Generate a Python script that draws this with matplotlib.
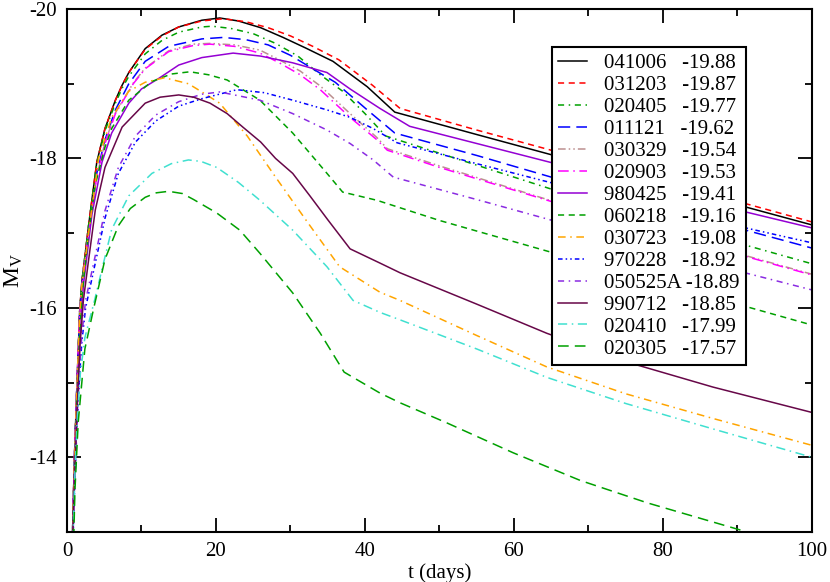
import matplotlib
matplotlib.use("Agg")
import matplotlib.pyplot as plt
from matplotlib.ticker import MultipleLocator

plt.rcParams["font.family"] = ["Liberation Serif", "DejaVu Serif"]
plt.rcParams["mathtext.fontset"] = "custom"
plt.rcParams["mathtext.rm"] = "Liberation Serif"
plt.rcParams["axes.unicode_minus"] = False

# light curves: t in days, absolute V magnitude
t_041006 = [0.7, 1.0, 1.35, 1.7, 2.0, 2.9, 4.0, 5.1, 6.5, 7.4, 8.3, 10.5, 12.75, 15, 18.1, 20.5, 23, 26, 29, 32, 35.7, 40.3, 44, 55, 65, 80, 100]
m_041006 = [-12.8, -14.0, -15.0, -15.95, -16.35, -17.1, -17.95, -18.4, -18.78, -18.98, -19.15, -19.47, -19.65, -19.76, -19.85, -19.88, -19.84, -19.75, -19.62, -19.48, -19.3, -18.96, -18.62, -18.32, -18.05, -17.65, -17.11]

t_031203 = [0.7, 1.0, 1.35, 1.7, 2.0, 2.9, 4.0, 5.1, 6.5, 7.4, 8.3, 10.5, 12.75, 15, 18.1, 21, 24, 27, 30, 33, 36.5, 41, 44.7, 55, 65, 80, 100]
m_031203 = [-12.8, -14.0, -15.0, -15.95, -16.35, -17.1, -17.95, -18.4, -18.78, -18.98, -19.15, -19.46, -19.64, -19.76, -19.84, -19.87, -19.83, -19.75, -19.64, -19.5, -19.32, -18.98, -18.67, -18.38, -18.11, -17.7, -17.15]

t_020405 = [0.7, 1.0, 1.35, 1.7, 2.0, 2.9, 4.0, 5.1, 6.5, 7.4, 8.3, 10.5, 12.75, 15, 18.1, 19.5, 22, 25, 28, 31, 34, 37, 40, 42.8, 50, 65, 80, 100]
m_020405 = [-12.8, -14.0, -15.0, -15.95, -16.35, -17.1, -17.93, -18.37, -18.74, -18.94, -19.1, -19.4, -19.58, -19.69, -19.76, -19.77, -19.74, -19.67, -19.54, -19.37, -19.12, -18.9, -18.6, -18.3, -18.07, -17.59, -17.15, -16.59]

t_011121 = [0.7, 1.0, 1.35, 1.7, 2.0, 2.9, 4.0, 5.1, 6.5, 8.3, 10.5, 13.65, 18.1, 21, 24, 27, 30, 33, 36, 40.3, 44, 55, 65, 80, 100]
m_011121 = [-12.8, -14.0, -15.0, -15.9, -16.3, -17.0, -17.8, -18.25, -18.65, -19.0, -19.3, -19.5, -19.6, -19.62, -19.59, -19.52, -19.38, -19.2, -19.02, -18.65, -18.34, -18.04, -17.75, -17.34, -16.8]

t_030329 = [0.7, 1.0, 1.35, 1.7, 2.0, 2.9, 4.0, 5.1, 6.5, 8.9, 10.5, 13.65, 16.9, 19.2, 22.5, 25.9, 28.5, 31.3, 34, 38, 41.6, 43, 50, 64.8, 80, 100]
m_030329 = [-12.8, -14.0, -15.0, -15.9, -16.29, -16.99, -17.77, -18.21, -18.61, -19.01, -19.21, -19.44, -19.53, -19.54, -19.52, -19.45, -19.32, -19.17, -18.97, -18.6, -18.28, -18.13, -17.9, -17.44, -17.01, -16.45]

t_020903 = [0.7, 1.0, 1.35, 1.7, 2.0, 2.9, 4.0, 5.1, 6.5, 8.9, 10.5, 13.65, 16.9, 19.2, 22.5, 25.9, 28.5, 31.3, 34, 38, 41.6, 43, 50, 64.8, 80, 100]
m_020903 = [-12.8, -14.0, -15.0, -15.9, -16.28, -16.98, -17.76, -18.2, -18.6, -19.0, -19.2, -19.43, -19.51, -19.53, -19.5, -19.41, -19.28, -19.12, -18.92, -18.55, -18.25, -18.11, -17.88, -17.43, -17.0, -16.44]

t_980425 = [0.7, 1.0, 1.35, 1.75, 2.2, 3.35, 4.7, 6.0, 8.3, 10, 12.3, 15, 18.1, 22.3, 26, 30.3, 34.9, 38, 42, 46, 55, 64.8, 80, 100]
m_980425 = [-12.7, -13.8, -14.75, -15.6, -16.3, -17.25, -17.95, -18.34, -18.74, -18.93, -19.07, -19.25, -19.35, -19.41, -19.37, -19.28, -19.15, -18.93, -18.67, -18.43, -18.2, -17.95, -17.55, -17.07]

t_060218 = [0.7, 1.0, 1.35, 1.7, 2.1, 2.9, 3.8, 5.1, 6.0, 8.3, 11.4, 14, 16.5, 19, 21.5, 25.9, 30.3, 34.9, 37, 41.6, 50, 64.8, 80, 100]
m_060218 = [-12.7, -13.8, -14.8, -15.65, -16.25, -17.0, -17.65, -18.15, -18.4, -18.78, -19.03, -19.13, -19.16, -19.12, -19.05, -18.78, -18.34, -17.8, -17.55, -17.44, -17.17, -16.75, -16.33, -15.77]

t_030723 = [0.7, 1.0, 1.35, 1.7, 2.0, 2.9, 4.25, 6.0, 8.3, 10.5, 13.1, 16.3, 18.1, 20.5, 24.2, 28, 32.4, 36.6, 42, 44.7, 55, 64.4, 75, 86.7, 100]
m_030723 = [-12.8, -13.95, -14.95, -15.9, -16.3, -17.0, -18.0, -18.55, -18.9, -19.02, -19.08, -19.0, -18.89, -18.74, -18.3, -17.75, -17.13, -16.55, -16.21, -16.1, -15.63, -15.21, -14.85, -14.52, -14.16]

t_970228 = [0.7, 1.0, 1.3, 1.7, 2.0, 2.5, 3.8, 5.1, 6.9, 9.2, 11.9, 15, 18.1, 22.8, 26.5, 30.3, 34.9, 38, 41.1, 44.3, 55, 64.8, 80, 100]
m_970228 = [-12.5, -13.5, -14.3, -15.1, -15.55, -16.0, -16.6, -17.2, -17.8, -18.22, -18.5, -18.7, -18.8, -18.92, -18.88, -18.78, -18.65, -18.55, -18.4, -18.21, -17.93, -17.68, -17.32, -16.87]

t_050525a = [0.7, 1.0, 1.3, 1.7, 2.0, 2.5, 3.8, 5.1, 6.9, 9.2, 11.9, 15, 18.1, 20.5, 25.9, 30.3, 34.9, 38, 41.1, 43.8, 55, 64.8, 80, 100]
m_050525a = [-12.6, -13.6, -14.4, -15.2, -15.65, -16.1, -16.7, -17.3, -17.88, -18.3, -18.58, -18.76, -18.86, -18.89, -18.78, -18.6, -18.38, -18.2, -17.98, -17.75, -17.45, -17.18, -16.75, -16.24]

t_990712 = [0.7, 1.0, 1.35, 1.75, 2.2, 2.9, 3.8, 5.1, 7.4, 10.5, 12.5, 15, 17, 19.2, 21.5, 23.6, 26, 28, 30.3, 32.6, 35, 38, 42, 44.7, 55, 64.4, 75, 86.7, 100]
m_990712 = [-12.7, -13.7, -14.6, -15.5, -16.1, -16.64, -17.31, -17.88, -18.42, -18.74, -18.82, -18.85, -18.82, -18.74, -18.6, -18.42, -18.22, -18.0, -17.8, -17.5, -17.18, -16.79, -16.6, -16.47, -16.05, -15.66, -15.28, -14.94, -14.6]

t_020410 = [0.8, 1.07, 1.4, 1.8, 2.4, 3.7, 4.9, 6.0, 8.3, 11.4, 14, 16.3, 18, 20.1, 23, 25.9, 30.3, 34.9, 38.4, 42, 44.7, 55, 64.4, 75, 86.7, 100]
m_020410 = [-12.9, -13.8, -14.55, -15.13, -15.6, -16.1, -16.6, -17.05, -17.5, -17.8, -17.93, -17.98, -17.96, -17.88, -17.68, -17.44, -17.04, -16.55, -16.1, -15.94, -15.84, -15.45, -15.07, -14.72, -14.38, -14.0]

t_020305 = [0.9, 1.07, 1.5, 2.4, 3.6, 5.1, 6.9, 8.5, 10.5, 12, 13.65, 15.5, 17, 20.1, 23.2, 25.9, 30.3, 34, 37.2, 42, 44.7, 51, 59.9, 68.9, 77.9, 91.3, 100]
m_020305 = [-12.9, -13.56, -14.46, -15.45, -16.0, -16.65, -17.1, -17.33, -17.48, -17.54, -17.56, -17.53, -17.45, -17.27, -17.04, -16.73, -16.2, -15.66, -15.14, -14.86, -14.73, -14.46, -14.06, -13.69, -13.39, -13.0, -12.75]

names = ["041006", "031203", "020405", "011121", "030329", "020903", "980425",
         "060218", "030723", "970228", "050525A", "990712", "020410", "020305"]
peaks = [-19.88, -19.87, -19.77, -19.62, -19.54, -19.53, -19.41,
         -19.16, -19.08, -18.92, -18.89, -18.85, -17.99, -17.57]

times = [t_041006, t_031203, t_020405, t_011121, t_030329, t_020903, t_980425,
         t_060218, t_030723, t_970228, t_050525a, t_990712, t_020410, t_020305]
mags = [m_041006, m_031203, m_020405, m_011121, m_030329, m_020903, m_980425,
        m_060218, m_030723, m_970228, m_050525a, m_990712, m_020410, m_020305]

colors = ["black", "#ff0000", "#00a000", "#0000ff", "#bc8f8f", "#ff00ff", "#9400d3",
          "#00a000", "#ffa500", "#0000ff", "#8a2be2", "#670748", "#40e0d0", "#00a000"]
styles = ["-", (0, (4, 3)), (0, (4, 3, 1, 3)), (0, (8, 4)), (0, (5, 2, 1, 2, 1, 2)),
          (0, (7, 3, 1, 3)), "-", (0, (4, 3)), (0, (5, 3, 1, 3)), (0, (3, 2, 1, 2, 1, 2)),
          (0, (4, 3, 1, 3)), "-", (0, (6, 3, 1, 3)), (0, (7, 4))]

fig = plt.figure(figsize=(8.3, 5.82), dpi=100)
ax = fig.add_axes([0.0807, 0.0859, 0.8976, 0.8986])

for name, pk, t, m, c, ls in zip(names, peaks, times, mags, colors, styles):
    gap = " " if len(name) > 6 else "   "
    ax.plot(t, m, color=c, linestyle=ls, linewidth=1.1, label=f"{name}{gap}{pk:.2f}")

ax.set_xlim(0, 100)
ax.set_ylim(-13, -20)
ax.xaxis.set_major_locator(MultipleLocator(20))
ax.xaxis.set_minor_locator(MultipleLocator(10))
ax.yaxis.set_major_locator(MultipleLocator(2))
ax.yaxis.set_minor_locator(MultipleLocator(1))
ax.tick_params(which="both", direction="in", top=True, right=True, width=1.3, labelsize=15)
ax.tick_params(which="major", length=10, pad=7)
ax.tick_params(which="minor", length=5)
for sp in ax.spines.values():
    sp.set_linewidth(1.5)

ax.set_xlabel("t (days)", fontsize=15, labelpad=2)
ax.set_ylabel(r"$\mathrm{M_V}$", fontsize=17, labelpad=3)

leg = ax.legend(loc="upper left", bbox_to_anchor=(0.651, 0.927), fontsize=15,
                frameon=True, fancybox=False, edgecolor="black", framealpha=1,
                handlelength=1.4, handletextpad=0.8, labelspacing=0.115,
                borderpad=0.3, borderaxespad=0)
leg.get_frame().set_linewidth(1.5)

fig.savefig("out.png", dpi=100)
